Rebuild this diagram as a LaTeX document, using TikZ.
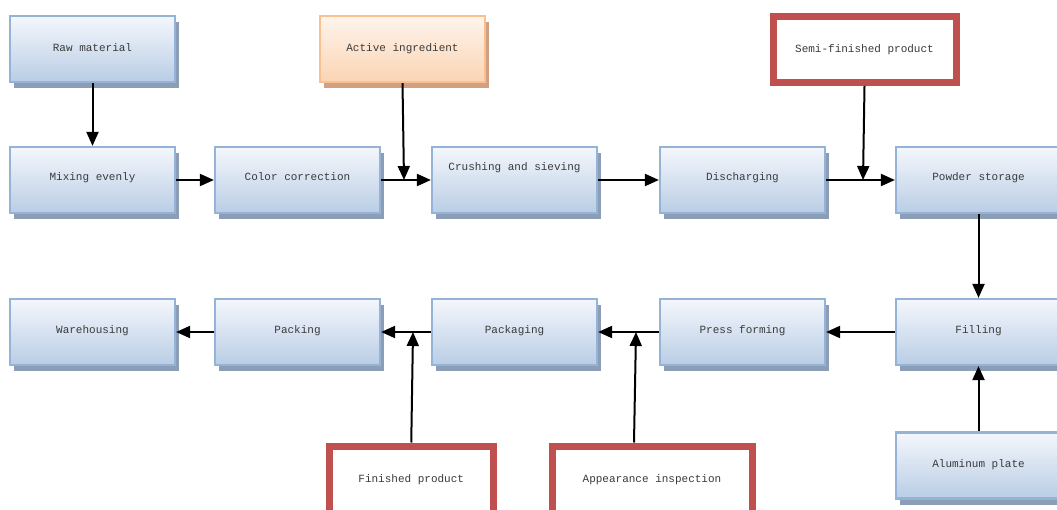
\documentclass[tikz,border=0pt]{standalone}
\usepackage{fontspec}
\setmonofont{Liberation Mono}
\usetikzlibrary{arrows.meta,shadows,calc}
\definecolor{bluetop}{HTML}{F4F7FC}
\definecolor{bluebot}{HTML}{B9CDE5}
\definecolor{blueline}{HTML}{95B3D7}
\definecolor{blueshadow}{HTML}{8C9DB6}
\definecolor{orgtop}{HTML}{FEF4EC}
\definecolor{orgbot}{HTML}{FBD4B4}
\definecolor{orgline}{HTML}{FAC090}
\definecolor{orgshadow}{HTML}{CFA182}
\definecolor{redline}{HTML}{C0504D}
\definecolor{txt}{HTML}{3A3A3A}
\tikzset{
  boxbase/.style={rectangle, minimum width=165pt, minimum height=66pt, inner sep=0pt,
    font=\ttfamily\fontsize{11}{13}\selectfont, text=txt},
  bluebox/.style={boxbase, draw=blueline, line width=2.2pt, top color=bluetop, bottom color=bluebot,
    general shadow={shadow xshift=4pt, shadow yshift=-6pt, fill=blueshadow}},
  orangebox/.style={boxbase, draw=orgline, line width=2.2pt, top color=orgtop, bottom color=orgbot,
    general shadow={shadow xshift=4pt, shadow yshift=-6pt, fill=orgshadow}},
  redbox/.style={boxbase, draw=redline, line width=7pt, fill=white},
  flow/.style={line width=2pt, -{Triangle[length=14pt,width=12pt]}}
}
\begin{document}
\begin{tikzpicture}[x=1pt,y=-1pt]
\useasboundingbox (0,0) rectangle (1057,510);
\clip (0,0) rectangle (1057,510);
\fill[white] (0,0) rectangle (1057,510);

% upper row
\node[bluebox] (raw) at (92.5,49) {\raisebox{2pt}{Raw material}};
\node[orangebox] (active) at (402.5,49) {\raisebox{2pt}{Active ingredient}};
\node[redbox, minimum width=183pt, minimum height=65.5pt] (semi) at (864.5,49.75) {Semi-finished product};

\node[bluebox] (mix) at (92.5,180) {\raisebox{7pt}{Mixing evenly}};
\node[bluebox] (color) at (297.5,180) {\raisebox{7pt}{Color correction}};
\node[bluebox] (crush) at (514.5,180) {\raisebox{27pt}{Crushing and sieving}};
\node[bluebox] (dis) at (742.5,180) {\raisebox{7pt}{Discharging}};
\node[bluebox] (powder) at (978.5,180) {\raisebox{7pt}{Powder storage}};

% lower row
\node[bluebox] (ware) at (92.5,332) {\raisebox{4pt}{Warehousing}};
\node[bluebox] (packing) at (297.5,332) {\raisebox{4pt}{Packing}};
\node[bluebox] (packaging) at (514.5,332) {\raisebox{4pt}{Packaging}};
\node[bluebox] (press) at (742.5,332) {\raisebox{4pt}{Press forming}};
\node[bluebox] (fill) at (978.5,332) {\raisebox{4pt}{Filling}};

\node[bluebox] (alu) at (978.5,465.5) {\raisebox{4pt}{Aluminum plate}};
\node[redbox, minimum width=163.5pt, minimum height=68pt] (fin) at (411.25,480) {\raisebox{2pt}{Finished product}};
\node[redbox, minimum width=200pt, minimum height=68pt] (insp) at (652,480) {\raisebox{2pt}{Appearance inspection}};

% junctions on the connecting lines
\coordinate (j1) at (404,180);
\coordinate (j2) at (863,180);
\coordinate (j3) at (413,332);
\coordinate (j4) at (636,332);

% connectors
\draw[flow] (raw.south) -- (mix.north);
\draw[flow] (mix.east) -- (color.west);
\draw[flow] (color.east) -- (crush.west);
\draw[flow] (active.south) -- (j1);
\draw[flow] (crush.east) -- (dis.west);
\draw[flow] (dis.east) -- (powder.west);
\draw[flow] (semi.south) -- (j2);
\draw[flow] (powder.south) -- (fill.north);
\draw[flow] (fill.west) -- (press.east);
\draw[flow] (press.west) -- (packaging.east);
\draw[flow] (packaging.west) -- (packing.east);
\draw[flow] (packing.west) -- (ware.east);
\draw[flow] (fin.north) -- (j3);
\draw[flow] ([xshift=-18pt]insp.north) -- (j4);
\draw[flow] (alu.north) -- (fill.south);
\end{tikzpicture}
\end{document}
